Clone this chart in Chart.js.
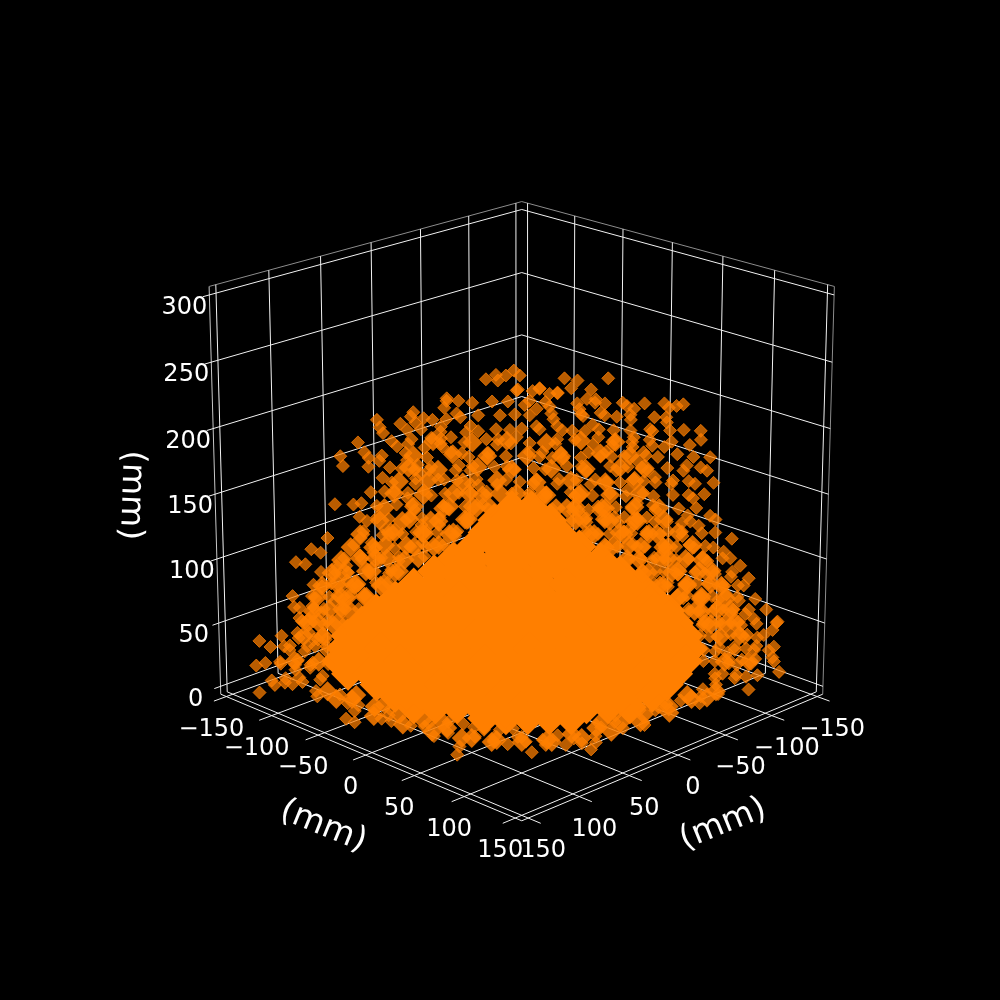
<!DOCTYPE html>
<html>
<head>
<meta charset="utf-8">
<title>3D scatter</title>
<script src="https://cdn.jsdelivr.net/npm/chart.js@4"></script>
<style>
  html, body { margin: 0; padding: 0; background: #000; }
  canvas { display: block; }
</style>
</head>
<body>
<canvas id="chart" width="1000" height="1000"></canvas>
<script>
// axis ticks in mm
const xTicks = [-150, -100, -50, 0, 50, 100, 150];
const yTicks = [-150, -100, -50, 0, 50, 100, 150];
const zTicks = [0, 50, 100, 150, 200, 250, 300];
const axisTitle = '(mm)';

// scattered points, one row per height: x,y pairs in mm
const scatterZ = [240, 230, 220, 210, 200, 190, 180, 170, 160, 150, 140, 130, 120, 110, 100, 90, 80, 70, 60, 50, 40, 30, 20, 10, 4];
const scatterXY = [
  [-12,-4, -14,12, -8,8, -12,24, -4,20, -1,1, 48,-39, 26,-17, 36,-20],
  [24,-26, 36,-34, 8,-10, 9,-2, -1,3, 22,-6, 24,-12, 9,-9, 0,5, 25,-11],
  [28,-38, 38,-36, -44,32, -24,26, 59,-47, 67,-46, 83,-65, 84,-72, 85,-78, -30,48, 33,-42, -16,14, 6,3, 21,-7, 40,-18, 18,3],
  [-66,80, -48,74, -42,65, -45,54, -38,52, 42,-42, 28,-32, 62,-48, 84,-62, -22,22, -11,11, 22,-10, -32,44],
  [66,-64, 94,-87, -63,77, 4,-11, 30,-42, -4,8, 23,-18, 29,-22, 49,-44, -22,34, -18,26],
  [-67,65, -54,61, 88,-94, 62,-68, 80,-64, -43,29, 50,-64, 32,-46, -10,-5, -52,40, -22,14, 14,-22, -32,48, -40,58, -8,17, 52,-40, 64,-48],
  [-90,94, -73,82, -63,81, -50,66, 99,-92, 30,-38, 6,-15, -33,28, 64,-62, 42,-38, 48,-43, 20,-11, 34,-26, -13,22, 66,-50],
  [-94,88, -60,62, -51,58, -42,60, 80,-88, 90,-92, 98,-90, -52,56, -48,44, -10,5, -28,22, 28,-33, 60,-62, -30,37],
  [85,-85, 100,-95, 80,-72, 62,-74, 62,-62, 5,-10, 16,-22, 35,-40, 44,-42, -42,37, -45,40, -16,28, -7,18],
  [-80,74, 93,-93, 93,-81, 2,-6, 10,-15, 48,-60, -34,30, -44,48, -52,64],
  [-100,91, -88,76, 53,-65, -35,40, -50,59, 32,-20, 38,-40, 38,-30, 18,-13],
  [-88,78, -78,80, 98,-100, 90,-103, 98,-82, 78,-92, 86,-77, 60,-68, 43,-52, 48,-57, -44,58, -35,49, 66,-45],
  [-92,106, -75,89, 98,-100, 115,-99, -60,62, -66,70, 50,-55, 62,-66, 72,-70, 80,-84, -52,46],
  [-103,112, -93,112, -66,85, 111,-95, -56,58, -72,78, -48,50, 60,-58, 70,-75, 80,-78, 90,-86],
  [-111,120, -103,118, -85,104, -80,99, -82,82, 106,-108, 121,-102, -60,66, -74,70, 66,-70, 75,-72, 85,-86],
  [-103,103, 97,-99, 114,-100, 125,-107, -76,80, -88,90, -66,70, 68,-70, 78,-84, 90,-88],
  [-107,107, -100,105, -83,85, 115,-113, 102,-104, -90,96, -78,72, 72,-78, 88,-92],
  [-120,116, -105,107, -91,101, 101,-110, 122,-118, 116,-107, -88,96, -98,92, 82,-88, 92,-90, 96,-100],
  [-122,113, -118,111, 125,-127, 95,-107, 120,-110, -110,104, -96,88, -104,100, 88,-84, 100,-96, 108,-110],
  [-116,111, -110,105, 114,-126, 130,-134, 110,-114, 131,-132, -104,96, -118,100, 92,-96, 100,-104, 104,-100],
  [-128,142, -100,110, -96,106, 122,-138, 124,-126, 115,-118, 124,-119, -112,118, -106,100, -120,112, 98,-96, 106,-110],
  [-132,128, -124,116, -114,108, 128,-133, 116,-116, 118,-125, 130,-125, 112,-108, -108,116, -104,98, 100,-104, 104,-96],
  [-130,135, -131,143, -121,128, 125,-135, 122,-115, 131,-130, -112,122, -100,118, -106,110, 110,-104, 112,-116, 100,-100],
  [-123,112, -120,138, -110,134, -112,142, 131,-136, 104,-104, -102,124, -96,112, -110,120, 100,-100, 112,-110, 120,-112],
  [-120,150, -93,119, -85,125, -76,111, -40,138, -31,138, -52,115, -37,113, -22,120, -23,112, 2,114, 8,102, 27,115, 53,115, 62,126, 48,95, 26,85, 58,85, 74,88, 70,74, 96,86, 57,66, 72,72, 86,65, 88,52, 100,48, 122,53, 116,42, 100,20, 119,-5, 92,-3, 98,-22, 104,-44, 107,-56, 120,-62, 104,-83, 105,-96, 128,-106]
];

// the thicker mottled band around the solid middle, estimated row by row
const fillZ = [220, 210, 200, 190, 180, 170, 160, 150, 140, 130, 120, 110, 100, 90, 80, 70, 60, 50, 40, 30, 20, 10, 4];
const fillXY = [
  [-40,36, -34,30, -8,6, 2,-6, 12,-12, 30,-26, 44,-40, 52,-50, 64,-60, 74,-70],
  [-60,50, -54,58, -36,30, -28,34, -5,2, 4,-4, 12,-18, 32,-30, 36,-44, 50,-46, 54,-56, 70,-64, 76,-70],
  [-74,70, -56,60, -50,52, -44,38, -36,46, -30,22, -12,14, 0,0, 10,-8, 14,-22, 36,-28, 40,-38, 58,-52, 70,-62, 78,-72, 84,-80],
  [-82,84, -60,52, -56,70, -46,36, -38,44, -28,30, -16,8, -3,8, 6,-2, 20,-14, 24,-30, 40,-32, 44,-50, 56,-56, 72,-60, 76,-76, 90,-80],
  [-84,76, -70,72, -62,56, -44,52, -40,32, -24,30, -20,14, -6,10, 0,-8, 12,-6, 16,-24, 26,-16, 38,-48, 54,-50, 58,-66, 72,-66, 78,-80, 90,-84],
  [-80,76, -68,66, -58,48, -44,50, -36,28, -22,30, -16,12, -2,6, 6,-6, 14,-10, 20,-26, 38,-28, 42,-48, 52,-44, 52,-56, 68,-60, 74,-74, 86,-78],
  [-76,66, -64,68, -58,50, -50,58, -34,32, -26,20, -22,30, -10,6, 0,2, 10,-2, 22,-14, 26,-30, 40,-30, 52,-48, 54,-60, 70,-66, 76,-78, 92,-84],
  [-74,66, -68,62, -60,56, -56,44, -40,38, -28,24, -22,14, -16,20, -6,4, 6,-2, 16,-8, 22,-28, 30,-24, 38,-34, 44,-46, 56,-50, 60,-64, 70,-64, 78,-76, 86,-84],
  [-90,82, -76,72, -68,60, -60,52, -42,38, -30,28, -24,16, -14,20, 26,-28, 34,-24, 44,-34, 48,-48, 58,-54, 64,-70, 72,-64, 82,-78, 90,-88],
  [-78,70, -70,66, -62,52, -54,48, -46,38, -30,24, -24,32, 26,-24, 30,-36, 36,-30, 42,-42, 52,-46, 56,-62, 70,-66, 76,-72, 88,-84],
  [-84,78, -76,64, -68,74, -56,52, -44,42, -36,30, -30,38, 32,-34, 40,-38, 46,-44, 56,-56, 66,-62, 72,-78, 86,-78, 92,-92],
  [-88,84, -82,72, -62,68, -56,46, -42,38, 42,-44, 50,-48, 54,-60, 64,-62, 76,-70, 84,-88, 94,-94, 100,-96],
  [-92,90, -88,78, -70,76, -66,60, -54,46, 54,-56, 60,-62, 70,-64, 80,-78, 90,-96, 98,-92, 102,-104],
  [-98,94, -92,100, -82,76, -70,64, 60,-64, 72,-74, 84,-76, 96,-92, 102,-96, 108,-108],
  [-100,96, -96,84, -84,90, -72,66, 66,-70, 78,-72, 84,-84, 94,-98, 106,-100, 112,-110],
  [-110,106, -100,98, -92,84, -84,78, 74,-72, 84,-82, 90,-96, 104,-98, 110,-112],
  [-114,102, -100,106, -92,94, -86,82, 84,-88, 92,-92, 104,-104, 112,-104, 116,-118],
  [-122,108, -112,112, -100,104, -92,90, 86,-84, 96,-90, 108,-108, 116,-110, 122,-120],
  [-124,124, -114,106, -102,112, -96,92, 92,-92, 102,-100, 110,-116, 118,-112],
  [-126,120, -118,122, -110,104, -98,104, 96,-92, 108,-112, 112,-100, 122,-118],
  [-124,126, -118,114, -104,114, -96,104, 94,-94, 104,-110, 116,-106, 118,-124],
  [-116,128, -104,132, -100,106, 106,-94, 116,-104, 124,-120],
  [-60,118, -46,124, -30,104, -14,118, 10,108, 16,90, 30,104, 36,84, 44,82, 52,74, 64,92, 80,76, 94,70, 104,60, 110,50, 108,34, 112,10, 100,6, 106,-30, 90,-28, 112,-72, 118,-84]
];

// overlapping clusters between the band and the solid middle
const clumpZ = [190, 180, 170, 160, 150, 140, 130, 120, 110, 100, 90, 80, 70, 60, 50, 40, 20, 5];
const clumpXY = [
  [-46,44, -24,26, -9,6, 14,-11, 28,-32, 48,-47],
  [-54,56, -36,34, -16,19, 4,-1, 22,-18, 38,-42, 56,-54],
  [-58,57, -40,45, -24,21, -3,7, 16,-14, 34,-31, 49,-51, 63,-62],
  [-62,63, -49,46, -28,32, -14,11, 9,-6, 24,-26, 44,-41, 57,-58],
  [-66,64, -49,51, -36,34, -18,22, -4,1, 14,-11, 29,-31, 46,-44, 59,-61, -12,10, 12,-10, -28,26, 30,-28],
  [-69,71, -56,54, -38,42, -26,24, -15,17, 19,-16, 27,-28, 44,-41, 57,-58, 71,-69, -22,24, 24,-22, -38,36, 42,-40],
  [-72,73, -59,56, -41,44, -29,26, 28,-27, 41,-44, 59,-56, 71,-74, -30,28, 30,-32, -46,47, 46,-44, -60,62, 60,-58],
  [-81,84, -66,64, -49,51, -36,34, 36,-34, 49,-51, 66,-64, 79,-81, -36,38, 38,-36, -52,50, 54,-50, -68,66, 70,-68],
  [-86,89, -71,69, -54,56, -44,41, 44,-41, 54,-56, 74,-71, 86,-89, -44,46, 46,-48, -60,58, 62,-60, -74,78, 76,-74],
  [-91,94, -76,74, -59,61, 61,-59, 74,-76, 94,-91, -54,52, 54,-54, -70,68, 70,-72, -84,82, 84,-84],
  [-96,99, -81,79, -64,66, 66,-64, 79,-81, 96,-99, -64,62, 64,-60, -78,76, 78,-76, -90,92, 90,-92],
  [-101,104, -86,84, -71,74, 74,-71, 84,-86, 104,-101, -72,70, 72,-70, -86,86, 86,-84, -96,94, 96,-98],
  [-106,104, -89,91, -81,79, 81,-79, 91,-94, 106,-104, -82,80, 80,-82, -94,92, 94,-90],
  [-106,109, -94,91, 94,-91, 106,-109, -90,88, 90,-88, -100,98, 100,-102],
  [-111,109, -96,99, 99,-96, 109,-111, -96,94, 96,-94, -106,104, 106,-104],
  [-112,113, -102,103, 104,-101, 112,-113],
  [-118,117, -104,106, 106,-104, 118,-117],
  [-85,115, -62,112, -40,110, -17,107, 2,102, 25,100, 100,25, 105,5, 107,-17, 110,-40, 112,-62, 115,-85, 50,100, 65,90, 80,80, 90,65, 95,45, -65,105, -38,102, -10,100, 15,95, 95,15, 100,-10, 102,-38, 105,-65, -70,120, -28,122, -2,118, 22,112, 45,105, 65,95, 95,65, 105,45, 112,22, 115,-5, 118,-32, 118,-72]
];

// the solid middle of the cloud, too dense to read one by one: x,y pairs of clumps
const coreZ = [140, 130, 120, 110, 100, 90, 80, 70, 60, 50, 40, 30, 20, 10, 5, 5, 5, 5];
const coreXY = [
  [-5,5, 5,-5],
  [-14,14, -2,3, 9,-9, 15,-14],
  [-20,18, -9,9, 3,-2, 13,-12, 21,-19],
  [-25,25, -14,13, -3,4, 8,-7, 19,-19, 30,-29],
  [-36,34, -24,25, -13,13, -2,2, 9,-9, 20,-20, 31,-30, 41,-40],
  [-46,44, -34,35, -23,24, -12,12, -1,1, 10,-10, 21,-22, 32,-31, 43,-43, 51,-50],
  [-56,55, -45,45, -33,34, -22,22, -11,11, 0,0, 11,-11, 22,-23, 33,-33, 44,-44, 55,-55, 61,-60],
  [-65,65, -54,54, -43,44, -32,32, -21,21, -10,10, 1,-1, 12,-12, 23,-23, 34,-34, 45,-45, 56,-56, 68,-67],
  [-75,75, -64,64, -53,53, -42,42, -31,31, -20,20, -9,9, 2,-2, 13,-13, 24,-24, 35,-35, 46,-46, 57,-57, 68,-68, 76,-75],
  [-83,82, -72,72, -61,61, -50,50, -39,39, -28,28, -17,17, -6,6, 5,-5, 16,-16, 27,-27, 38,-38, 49,-49, 60,-60, 71,-71, 80,-80],
  [-90,90, -79,79, -68,68, -57,57, -46,46, -35,35, -24,24, -13,13, -2,2, 9,-9, 20,-20, 31,-31, 42,-42, 53,-53, 64,-64, 75,-75, 85,-85],
  [-93,92, -84,84, -73,73, -62,62, -51,51, -40,40, -29,29, -18,18, -7,7, 4,-4, 15,-15, 26,-26, 37,-37, 48,-48, 59,-59, 70,-70, 81,-81, 88,-87],
  [-95,95, -85,84, -74,74, -63,63, -52,52, -41,41, -30,30, -19,19, -8,8, 3,-3, 14,-14, 25,-25, 36,-36, 47,-47, 58,-58, 69,-69, 80,-80, 85,-85],
  [-90,90, -79,79, -68,68, -57,57, -46,46, -35,35, -24,24, -13,13, -2,2, 9,-9, 20,-20, 31,-31, 42,-42, 53,-53, 64,-64, 75,-75, 80,-80],
  [-69,81, -58,70, -47,59, -36,48, -25,37, -14,26, -3,15, 8,4, 19,-7, 30,-18, 41,-29, 52,-40, 63,-51, 74,-62, 81,-69],
  [-44,86, -33,75, -22,64, -11,53, 0,42, 11,31, 22,20, 33,9, 44,-2, 55,-13, 66,-24, 77,-35, 88,-46],
  [-19,91, -8,80, 3,69, 14,58, 25,47, 36,36, 47,25, 58,14, 69,3, 80,-8, 91,-19],
  [31,69, 42,58, 53,47, 64,36, 75,25]
];

// camera of the 3D box, fitted to the corners of the picture
const limit = 156.25;
const zMid = 150;
const elev = 20 * Math.PI / 180;
const camDist = 18;
const zoom = 224.5;
const centerX = 522.5;
const centerY = 494;

function project(x, y, z) {
  const a = x / limit, b = y / limit, c = (z - zMid) / limit;
  const r = Math.SQRT1_2;
  const side = (a - b) * r;
  const up = -(a + b) * r * Math.sin(elev) + c * Math.cos(elev);
  const toward = (a + b) * r * Math.cos(elev) + c * Math.sin(elev);
  const s = camDist / (camDist - toward);
  return { x: centerX + zoom * side * s, y: centerY - zoom * up * s };
}

const zLow = zMid - limit, zHigh = zMid + limit;
const tickLen = 12;

function lineSet(from, to, color, width) {
  return {
    data: [project(...from), project(...to)],
    showLine: true,
    borderColor: color,
    borderWidth: width,
    pointRadius: 0,
    order: 10
  };
}

function pointsFrom(rowZ, rowXY) {
  const out = [];
  rowZ.forEach((z, i) => {
    const row = rowXY[i];
    for (let k = 0; k < row.length; k += 2) out.push(project(row[k], row[k + 1], z));
  });
  return out;
}

const datasets = [];
const gridColor = '#f2f2f2';
const edgeColor = '#8c8c8c';

xTicks.forEach(x => {
  datasets.push(lineSet([x, -limit, zLow], [x, limit + tickLen, zLow], gridColor, 1));
  datasets.push(lineSet([x, -limit, zLow], [x, -limit, zHigh], gridColor, 1));
});
yTicks.forEach(y => {
  datasets.push(lineSet([-limit, y, zLow], [limit + tickLen, y, zLow], gridColor, 1));
  datasets.push(lineSet([-limit, y, zLow], [-limit, y, zHigh], gridColor, 1));
});
zTicks.forEach(z => {
  datasets.push(lineSet([-limit, limit + 6, z], [-limit, -limit, z], gridColor, 1));
  datasets.push(lineSet([-limit, -limit, z], [limit, -limit, z], gridColor, 1));
});

// box outline
datasets.push(lineSet([-limit, limit, zHigh], [-limit, -limit, zHigh], edgeColor, 1));
datasets.push(lineSet([-limit, -limit, zHigh], [limit, -limit, zHigh], edgeColor, 1));
datasets.push(lineSet([limit, -limit, zHigh], [limit, -limit, zLow], edgeColor, 1));
datasets.push(lineSet([-limit, limit, zHigh], [-limit, limit, zLow], '#c8c8c8', 1));
datasets.push(lineSet([-limit, limit, zLow], [limit, limit, zLow], gridColor, 1));
datasets.push(lineSet([limit, limit, zLow], [limit, -limit, zLow], gridColor, 1));

const orange = 'rgba(255,127,0,0.72)';
datasets.push({
  data: pointsFrom(coreZ, coreXY),
  pointStyle: 'rectRot',
  pointRadius: 17,
  pointBorderWidth: 0,
  pointBackgroundColor: '#ff7f00',
  order: 3
});
datasets.push({
  data: pointsFrom(clumpZ, clumpXY),
  pointStyle: 'rectRot',
  pointRadius: 10,
  pointBorderWidth: 0,
  pointBackgroundColor: 'rgba(255,127,0,0.85)',
  order: 2
});
datasets.push({
  data: pointsFrom(scatterZ, scatterXY).concat(pointsFrom(fillZ, fillXY)),
  pointStyle: 'rectRot',
  pointRadius: 6.5,
  pointBorderWidth: 1,
  pointBackgroundColor: orange,
  pointBorderColor: orange,
  order: 1
});

// tick labels and axis titles, placed on the same scales
const textPlugin = {
  id: 'boxText',
  afterDraw(chart) {
    const { ctx, scales } = chart;
    const put = (txt, p, dx, dy, size, angle) => {
      ctx.save();
      ctx.translate(scales.x.getPixelForValue(p.x) + dx, scales.y.getPixelForValue(p.y) + dy);
      ctx.rotate((angle || 0) * Math.PI / 180);
      ctx.font = size + 'px "DejaVu Sans"';
      ctx.fillStyle = '#fff';
      ctx.textAlign = 'center';
      ctx.textBaseline = 'middle';
      ctx.fillText(txt, 0, 0);
      ctx.restore();
    };
    const sign = v => String(v).replace('-', '\u2212');
    xTicks.forEach(x => put(sign(x), project(x, limit, zLow), -15, 33, 24));
    yTicks.forEach(y => put(sign(y), project(limit, y, zLow), 15, 33, 24));
    zTicks.forEach(z => put(sign(z), project(-limit, limit, z), -25, 13, 24));
    put(axisTitle, { x: 317, y: 838 }, 0, 0, 33, 22);
    put(axisTitle, { x: 731, y: 836 }, 0, 0, 33, -22);
    put(axisTitle, { x: 118, y: 495 }, 0, 0, 33, 92);
  }
};

new Chart(document.getElementById('chart').getContext('2d'), {
  type: 'scatter',
  data: { datasets },
  options: {
    responsive: false,
    animation: false,
    layout: { padding: 0 },
    plugins: { legend: { display: false }, tooltip: { enabled: false } },
    scales: {
      x: { display: false, min: 0, max: 1000 },
      y: { display: false, min: 0, max: 1000, reverse: true }
    }
  },
  plugins: [textPlugin, {
    id: 'blackBackground',
    beforeDraw(chart) {
      chart.ctx.fillStyle = '#000';
      chart.ctx.fillRect(0, 0, chart.width, chart.height);
    }
  }]
});
</script>
</body>
</html>
